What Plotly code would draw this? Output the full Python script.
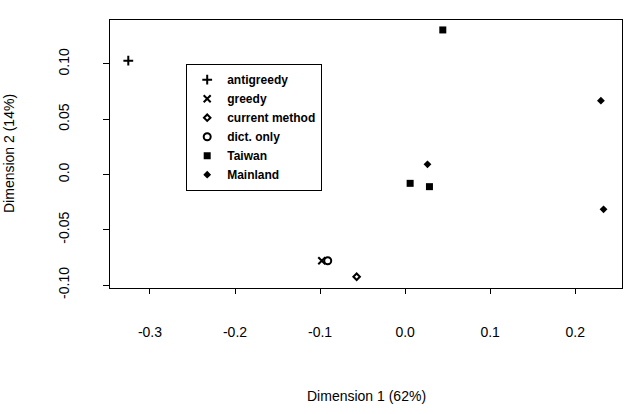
import plotly.graph_objects as go

# ---- data ----
series_names = ["antigreedy", "greedy", "current method", "dict. only", "Taiwan", "Mainland"]
antigreedy_x = [-0.3255]
antigreedy_y = [0.103]
greedy_x = [-0.098]
greedy_y = [-0.078]
current_x = [-0.057]
current_y = [-0.0925]
dict_x = [-0.091]
dict_y = [-0.078]
taiwan_x = [0.0443, 0.0059, 0.0286]
taiwan_y = [0.1308, -0.008, -0.011]
mainland_x = [0.0263, 0.2302, 0.2333]
mainland_y = [0.0092, 0.0668, -0.0315]

x_tickvals = [-0.3, -0.2, -0.1, 0.0, 0.1, 0.2]
x_ticktext = ["-0.3", "-0.2", "-0.1", "0.0", "0.1", "0.2"]
y_tickvals = [-0.10, -0.05, 0.0, 0.05, 0.10]
y_ticktext = ["-0.10", "-0.05", "0.0", "0.05", "0.10"]

x_title = "Dimension 1 (62%)"
y_title = "Dimension 2 (14%)"

FONT = "Liberation Sans, Arial, sans-serif"

styles = [
    dict(symbol="cross-thin-open", size=7, line=dict(width=2, color="black")),
    dict(symbol="x-thin-open", size=7, line=dict(width=2, color="black")),
    dict(symbol="diamond-open", size=5, line=dict(width=2, color="black")),
    dict(symbol="circle-open", size=7, line=dict(width=2, color="black")),
    dict(symbol="square", size=7, color="black", line=dict(width=0)),
    dict(symbol="diamond", size=6, color="black", line=dict(width=0)),
]
xs = [antigreedy_x, greedy_x, current_x, dict_x, taiwan_x, mainland_x]
ys = [antigreedy_y, greedy_y, current_y, dict_y, taiwan_y, mainland_y]

fig = go.Figure()
for name, x, y, st in zip(series_names, xs, ys, styles):
    m = dict(st)
    if "color" not in m:
        m["color"] = "black"
    fig.add_trace(go.Scatter(x=x, y=y, mode="markers", name=name, marker=m))

fig.update_layout(
    width=636, height=414,
    margin=dict(l=110, r=14, t=20, b=126),
    paper_bgcolor="white", plot_bgcolor="white",
    font=dict(family=FONT, size=14, color="black"),
    showlegend=True,
    legend=dict(
        x=(186 - 110) / 512, y=(288 - 64) / 268, xanchor="left", yanchor="top",
        bordercolor="black", borderwidth=1.2, bgcolor="white",
        font=dict(family=FONT, size=12, color="black", weight="bold"),
        itemwidth=30, tracegroupgap=0,
        entrywidth=120, entrywidthmode="pixels",
    ),
    xaxis=dict(
        range=[-0.347, 0.255], tickvals=x_tickvals, ticktext=x_ticktext,
        showgrid=False, zeroline=False, showline=True, mirror=True,
        linecolor="black", linewidth=1.3,
        ticks="outside", ticklen=5, tickwidth=1.3, tickcolor="black",
        ticklabelstandoff=26,
        tickfont=dict(family=FONT, size=14, color="black"),
    ),
    yaxis=dict(
        range=[-0.1027, 0.1398], tickvals=y_tickvals, ticktext=y_ticktext,
        showgrid=False, zeroline=False, showline=True, mirror=True,
        linecolor="black", linewidth=1.3,
        ticks="outside", ticklen=6, tickwidth=1.3, tickcolor="black",
        tickangle=-90, ticklabelstandoff=28,
        tickfont=dict(family=FONT, size=14, color="black"),
    ),
    annotations=[
        dict(text=x_title, xref="paper", yref="paper", x=0.5, y=0,
             xanchor="center", yanchor="middle", yshift=-108, showarrow=False,
             font=dict(family=FONT, size=14, color="black")),
        dict(text=y_title, xref="paper", yref="paper", x=0, y=0.5,
             xanchor="center", yanchor="middle", xshift=-101, textangle=-90,
             showarrow=False, font=dict(family=FONT, size=14, color="black")),
    ],
)

fig.write_html("out.html")
